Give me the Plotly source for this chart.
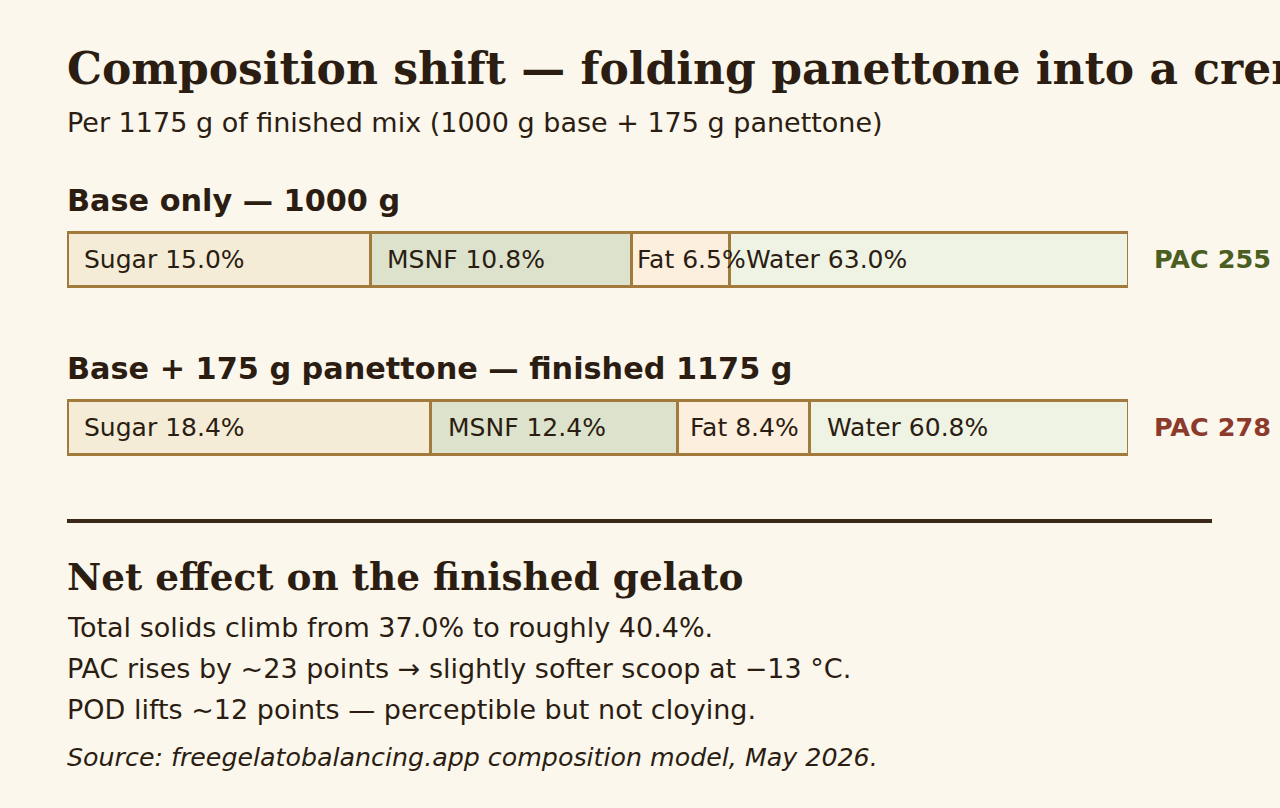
import plotly.graph_objects as go

# composition data (labels are the % of mix, widths are the drawn share of each bar)
rows = ["Base only — 1000 g", "Base + 175 g panettone — finished 1175 g"]
components = ["Sugar", "MSNF", "Fat", "Water"]
pct_base = [15.0, 10.8, 6.5, 63.0]
pct_finished = [18.4, 12.4, 8.4, 60.8]
share_base = [28.6, 24.6, 9.2, 37.6]
share_finished = [34.3, 23.2, 12.5, 30.0]
pac = [255, 278]

notes = [
    "Total solids climb from 37.0% to roughly 40.4%.",
    "PAC rises by ~23 points → slightly softer scoop at −13 °C.",
    "POD lifts ~12 points — perceptible but not cloying.",
]

W, H = 1280, 808
BG = "#fbf7ec"
INK = "#2b1d12"
BORDER = "#a27b3c"
fills = ["#f4ecd7", "#dce2cc", "#fcefdd", "#eff3e4"]
pac_colors = ["#4b5e22", "#8c3a2c"]
SANS = "DejaVu Sans"
SERIF = "DejaVu Serif"

X0, X1 = 67, 1128
TX = 65  # left edge of the text column (annotation box has a little inset)
row_y = [259, 427]
bar_h = 54

fig = go.Figure()
for i, comp in enumerate(components):
    fig.add_trace(go.Bar(
        x=[share_base[i], share_finished[i]],
        y=row_y,
        orientation="h",
        width=bar_h,
        marker=dict(color=fills[i], line=dict(color=BORDER, width=3)),
        hoverinfo="skip",
        showlegend=False,
    ))

ann = []


def text(x, y, s, size, color=INK, family=SANS, xref="paper", xshift=0):
    ann.append(dict(
        x=x if xref != "paper" else x / W, y=y, xref=xref, yref="y",
        text=s, showarrow=False, xanchor="left", yanchor="middle",
        xshift=xshift, font=dict(family=family, size=size, color=color),
    ))


text(TX, 68, "<b>Composition shift — folding panettone into a crema base</b>", 44, family=SERIF)
text(TX, 122, "Per 1175 g of finished mix (1000 g base + 175 g panettone)", 27)

label_size = 25
for r, (shares, pcts) in enumerate([(share_base, pct_base), (share_finished, pct_finished)]):
    text(TX, row_y[r] - 59, "<b>%s</b>" % rows[r], 30.3)
    start = 0
    for comp, s, p in zip(components, shares, pcts):
        lab = "%s %.1f%%" % (comp, p)
        seg_px = s / 100 * (X1 - X0)
        tw = len(lab) * 0.55 * label_size
        if seg_px < tw:
            pad = 4
        else:
            pad = min(15, (seg_px - tw) / 2)
        text(start, row_y[r], lab, label_size, xref="x", xshift=pad)
        start += s
    text(1152, row_y[r], "<b>PAC %d</b>" % pac[r], 25.5, color=pac_colors[r])

text(TX, 577, "<b>Net effect on the finished gelato</b>", 37.4, family=SERIF)
for k, line in enumerate(notes):
    text(TX, 627 + 41 * k, line, 27)
text(TX, 757, "<i>Source: freegelatobalancing.app composition model, May 2026.</i>", 25.3)

fig.add_shape(type="line", xref="paper", yref="y", x0=67 / W, x1=1212 / W, y0=521, y1=521,
              line=dict(color="#3b2a1a", width=4))

fig.update_layout(
    width=W, height=H,
    margin=dict(l=0, r=0, t=0, b=0),
    paper_bgcolor=BG, plot_bgcolor=BG,
    barmode="stack",
    xaxis=dict(domain=[X0 / W, X1 / W], range=[0, 100], visible=False, fixedrange=True),
    yaxis=dict(domain=[0, 1], range=[H, 0], visible=False, fixedrange=True),
    annotations=ann,
)

fig.write_html("out.html", config={"displayModeBar": False},
               post_script="document.body.style.margin='0';document.body.style.background='%s';" % BG)
